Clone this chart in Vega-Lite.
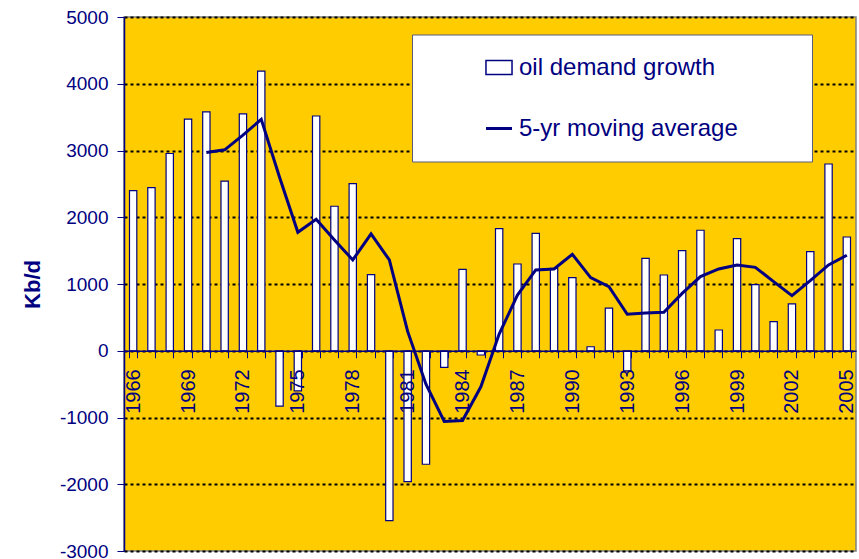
{
  "$schema": "https://vega.github.io/schema/vega-lite/v6.json",
  "width": 732,
  "height": 534,
  "autosize": {"type": "none"},
  "padding": {"left": 124, "top": 17, "right": 3, "bottom": 8},
  "background": "white",
  "config": {
    "view": {"fill": "#FFCC00", "stroke": "#808080", "strokeWidth": 1.5},
    "font": "Liberation Sans",
    "axis": {"labelFont": "Liberation Sans", "titleFont": "Liberation Sans"},
    "legend": {"labelFont": "Liberation Sans"}
  },
  "data": {
    "values": [
      {"year": 1966, "growth": 2400, "ma": null},
      {"year": 1967, "growth": 2445, "ma": null},
      {"year": 1968, "growth": 2955, "ma": null},
      {"year": 1969, "growth": 3470, "ma": null},
      {"year": 1970, "growth": 3580, "ma": 2970},
      {"year": 1971, "growth": 2540, "ma": 3010},
      {"year": 1972, "growth": 3550, "ma": 3230},
      {"year": 1973, "growth": 4190, "ma": 3467},
      {"year": 1974, "growth": -830, "ma": 2600},
      {"year": 1975, "growth": -600, "ma": 1775},
      {"year": 1976, "growth": 3517, "ma": 1970},
      {"year": 1977, "growth": 2165, "ma": 1660},
      {"year": 1978, "growth": 2503, "ma": 1360},
      {"year": 1979, "growth": 1140, "ma": 1750},
      {"year": 1980, "growth": -2546, "ma": 1360},
      {"year": 1981, "growth": -1960, "ma": 290},
      {"year": 1982, "growth": -1700, "ma": -500},
      {"year": 1983, "growth": -248, "ma": -1060},
      {"year": 1984, "growth": 1220, "ma": -1045},
      {"year": 1985, "growth": -64, "ma": -540},
      {"year": 1986, "growth": 1829, "ma": 250},
      {"year": 1987, "growth": 1300, "ma": 835},
      {"year": 1988, "growth": 1759, "ma": 1210},
      {"year": 1989, "growth": 1235, "ma": 1225},
      {"year": 1990, "growth": 1095, "ma": 1445},
      {"year": 1991, "growth": 60, "ma": 1095},
      {"year": 1992, "growth": 638, "ma": 960},
      {"year": 1993, "growth": -300, "ma": 546},
      {"year": 1994, "growth": 1385, "ma": 565},
      {"year": 1995, "growth": 1135, "ma": 576},
      {"year": 1996, "growth": 1500, "ma": 860},
      {"year": 1997, "growth": 1805, "ma": 1110},
      {"year": 1998, "growth": 311, "ma": 1225},
      {"year": 1999, "growth": 1680, "ma": 1285},
      {"year": 2000, "growth": 990, "ma": 1250},
      {"year": 2001, "growth": 436, "ma": 1035},
      {"year": 2002, "growth": 702, "ma": 825},
      {"year": 2003, "growth": 1485, "ma": 1050},
      {"year": 2004, "growth": 2798, "ma": 1285},
      {"year": 2005, "growth": 1704, "ma": 1430}
    ]
  },
  "encoding": {
    "x": {
      "field": "year",
      "type": "ordinal",
      "scale": {"paddingInner": 0.6, "paddingOuter": 0.3},
      "axis": {
        "title": null,
        "orient": "bottom",
        "offset": -200.25,
        "zindex": 1,
        "grid": false,
        "domainColor": "#000080",
        "domainWidth": 1.5,
        "tickColor": "#000080",
        "tickSize": 7,
        "tickBand": "extent",
        "labelAngle": 270,
        "labelFontSize": 20,
        "labelColor": "#000080",
        "labelPadding": 11,
        "labelOverlap": false,
        "labelExpr": "(datum.value - 1966) % 3 == 0 ? datum.label : ''"
      }
    }
  },
  "layer": [
    {
      "mark": {"type": "bar", "fill": "white", "strokeWidth": 1.2},
      "encoding": {
        "y": {
          "field": "growth",
          "type": "quantitative",
          "scale": {"domain": [-3000, 5000], "nice": false},
          "axis": {
            "title": "Kb/d",
            "titleFontSize": 22,
            "titleFontWeight": "bold",
            "titleColor": "#000080",
            "titleAngle": -90,
            "titleX": -92,
            "titleY": 267,
            "titleAlign": "center",
            "titleBaseline": "middle",
            "values": [-3000, -2000, -1000, 0, 1000, 2000, 3000, 4000, 5000],
            "labelExpr": "'' + datum.value",
            "grid": true,
            "gridColor": "black",
            "gridDash": [3, 3],
            "gridWidth": 2,
            "domainColor": "#000080",
            "domainWidth": 1.5,
            "tickColor": "#000080",
            "tickSize": 7,
            "labelFontSize": 19,
            "labelColor": "#000080",
            "labelPadding": 9
          }
        },
        "stroke": {
          "datum": "oil demand growth",
          "type": "nominal",
          "scale": {"domain": ["oil demand growth", "5-yr moving average"], "range": ["#000080", "#000080"]},
          "legend": {
            "title": ".",
            "titleOrient": "right",
            "titleFontSize": 10,
            "titleColor": "white",
            "titlePadding": 50,
            "orient": "none",
            "legendX": 288,
            "legendY": 17.5,
            "fillColor": "white",
            "strokeColor": "#5a5a7a",
            "padding": 21,
            "symbolOffset": 54,
            "symbolSize": 784,
            "labelFontSize": 24,
            "labelColor": "#000080",
            "labelOffset": 8,
            "rowPadding": 37,
            "labelLimit": 400,
            "encode": {
              "symbols": {
                "update": {
                  "shape": {"signal": "datum.value == 'oil demand growth' ? 'M-0.93,-0.5H0.93V0.5H-0.93Z' : 'M-0.93,0H0.93'"},
                  "fill": {"signal": "datum.value == 'oil demand growth' ? 'white' : 'transparent'"},
                  "strokeWidth": {"signal": "datum.value == 'oil demand growth' ? 1.5 : 3"},
                  "stroke": {"value": "#000080"}
                }
              }
            }
          }
        }
      }
    },
    {
      "mark": {"type": "line", "strokeWidth": 3},
      "encoding": {
        "y": {"field": "ma", "type": "quantitative"},
        "stroke": {
          "datum": "5-yr moving average",
          "type": "nominal",
          "legend": {
            "title": ".",
            "titleOrient": "right",
            "titleFontSize": 10,
            "titleColor": "white",
            "titlePadding": 50,
            "orient": "none",
            "legendX": 288,
            "legendY": 17.5,
            "fillColor": "white",
            "strokeColor": "#5a5a7a",
            "padding": 21,
            "symbolOffset": 54,
            "symbolSize": 784,
            "labelFontSize": 24,
            "labelColor": "#000080",
            "labelOffset": 8,
            "rowPadding": 37,
            "labelLimit": 400,
            "encode": {
              "symbols": {
                "update": {
                  "shape": {"signal": "datum.value == 'oil demand growth' ? 'M-0.93,-0.5H0.93V0.5H-0.93Z' : 'M-0.93,0H0.93'"},
                  "fill": {"signal": "datum.value == 'oil demand growth' ? 'white' : 'transparent'"},
                  "strokeWidth": {"signal": "datum.value == 'oil demand growth' ? 1.5 : 3"},
                  "stroke": {"value": "#000080"}
                }
              }
            }
          }
        }
      }
    }
  ]
}
